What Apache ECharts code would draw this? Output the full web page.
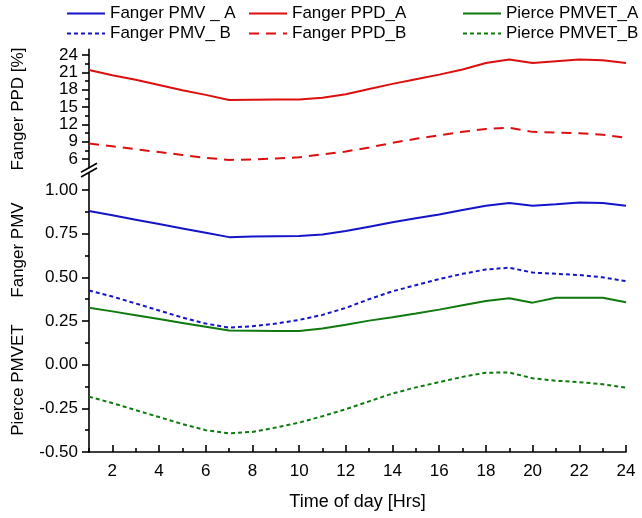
<!DOCTYPE html>
<html><head><meta charset="utf-8">
<script src="https://cdn.jsdelivr.net/npm/echarts@6/dist/echarts.min.js"></script>
<style>html,body{margin:0;padding:0;background:#fff}#c{width:642px;height:518px}</style>
</head><body><div id="c"></div>
<script>
const hours = [1,2,3,4,5,6,7,8,9,10,11,12,13,14,15,16,17,18,19,20,21,22,23,24];
const pmvA = [0.88,0.855,0.83,0.805,0.78,0.755,0.73,0.733,0.735,0.737,0.745,0.765,0.79,0.815,0.838,0.86,0.885,0.91,0.926,0.91,0.918,0.928,0.926,0.91];
const pmvB = [0.425,0.39,0.35,0.31,0.27,0.235,0.212,0.22,0.235,0.256,0.285,0.325,0.375,0.42,0.455,0.49,0.52,0.545,0.555,0.527,0.52,0.513,0.5,0.478];
const ppdA = [21.4,20.5,19.7,18.8,17.9,17.1,16.2,16.25,16.3,16.3,16.6,17.2,18.1,19.0,19.8,20.6,21.5,22.6,23.2,22.6,22.9,23.2,23.1,22.6];
const ppdB = [8.7,8.2,7.7,7.2,6.7,6.2,5.85,5.9,6.1,6.3,6.8,7.3,8.0,8.8,9.5,10.1,10.7,11.2,11.4,10.7,10.6,10.45,10.2,9.7];
const etA = [0.326,0.305,0.283,0.261,0.239,0.217,0.195,0.194,0.193,0.193,0.207,0.228,0.252,0.272,0.293,0.315,0.34,0.365,0.38,0.355,0.383,0.383,0.383,0.357];
const etB = [-0.183,-0.22,-0.26,-0.3,-0.34,-0.375,-0.393,-0.385,-0.36,-0.332,-0.295,-0.255,-0.21,-0.165,-0.13,-0.1,-0.07,-0.046,-0.045,-0.078,-0.092,-0.1,-0.112,-0.132];

const xMajor = [2,4,6,8,10,12,14,16,18,20,22,24];
const xMinor = [1,3,5,7,9,11,13,15,17,19,21,23];
const ppdMajor = [6,9,12,15,18,21,24];
const ppdMinor = [7.5,10.5,13.5,16.5,19.5,22.5];
const pmvMajor = [-0.5,-0.25,0,0.25,0.5,0.75,1.0];
const pmvMinor = [-0.375,-0.125,0.125,0.375,0.625,0.875];

const FONT = "'Liberation Sans', Arial, sans-serif";
const BLUE = '#1414c8', RED = '#dc0f0f', GREEN = '#0e7a0e';
const axisLine = {show:true, onZero:false, lineStyle:{color:'#000', width:1.6}};
const lbl = {color:'#000', fontSize:17, fontFamily:FONT};

const chart = echarts.init(document.getElementById('c'), null, {renderer:'canvas'});

function mkSeries(name, data, color, type, xi, yi) {
  return {
    name, type:'line', xAxisIndex:xi, yAxisIndex:yi, symbol:'none', smooth:false,
    data: hours.map((h,i)=>[h, data[i]]),
    lineStyle:{color, width:2, type},
    itemStyle:{color}
  };
}
function mkLegend(name, left, top) {
  return {data:[name], left, top, itemWidth:38, itemHeight:14, padding:0,
    itemStyle:{opacity:0},
    textStyle:{color:'#000', fontSize:17, fontFamily:FONT}};
}

const option = {
  animation:false,
  backgroundColor:'#fff',
  legend:[
    mkLegend('Fanger PMV _ A', 66, 5), mkLegend('Fanger PPD_A', 248, 5), mkLegend('Pierce PMVET_A', 462, 5),
    mkLegend('Fanger PMV_ B', 66, 25), mkLegend('Fanger PPD_B', 248, 25), mkLegend('Pierce PMVET_B', 462, 25)
  ],
  grid:[
    {left:89, right:16, top:49.2, height:118.5},
    {left:89, right:16, top:172.5, bottom:66}
  ],
  xAxis:[
    {type:'value', gridIndex:0, min:1, max:24, show:false},
    {type:'value', gridIndex:1, position:'bottom', min:1, max:24, axisLine,
      axisTick:{show:true, inside:true, length:7, customValues:xMajor, lineStyle:{color:'#000', width:1.6}},
      axisLabel:Object.assign({customValues:xMajor, margin:11}, lbl),
      splitLine:{show:false},
      name:'Time of day [Hrs]', nameLocation:'middle', nameGap:41,
      nameTextStyle:{color:'#000', fontSize:18, fontFamily:FONT}},
    {type:'value', gridIndex:1, position:'bottom', min:1, max:24,
      axisLine:{show:false, onZero:false}, axisLabel:{show:false}, splitLine:{show:false},
      axisTick:{show:true, inside:true, length:4, customValues:xMinor, lineStyle:{color:'#000', width:1.6}}}
  ],
  yAxis:[
    {type:'value', gridIndex:0, position:'left', min:4.5, max:25, axisLine,
      axisTick:{show:true, length:7, customValues:ppdMajor, lineStyle:{color:'#000', width:1.6}},
      axisLabel:Object.assign({customValues:ppdMajor, margin:11}, lbl),
      splitLine:{show:false}},
    {type:'value', gridIndex:0, position:'left', min:4.5, max:25,
      axisLine:{show:false, onZero:false}, axisLabel:{show:false}, splitLine:{show:false},
      axisTick:{show:true, length:4, customValues:ppdMinor, lineStyle:{color:'#000', width:1.6}}},
    {type:'value', gridIndex:1, position:'left', min:-0.5, max:1.1, axisLine,
      axisTick:{show:true, length:7, customValues:pmvMajor, lineStyle:{color:'#000', width:1.6}},
      axisLabel:Object.assign({customValues:pmvMajor, margin:11, formatter:v=>v.toFixed(2)}, lbl),
      splitLine:{show:false}},
    {type:'value', gridIndex:1, position:'left', min:-0.5, max:1.1,
      axisLine:{show:false, onZero:false}, axisLabel:{show:false}, splitLine:{show:false},
      axisTick:{show:true, length:4, customValues:pmvMinor, lineStyle:{color:'#000', width:1.6}}}
  ],
  series:[
    mkSeries('Fanger PMV _ A', pmvA, BLUE, 'solid', 1, 2),
    mkSeries('Fanger PPD_A', ppdA, RED, 'solid', 0, 0),
    mkSeries('Pierce PMVET_A', etA, GREEN, 'solid', 1, 2),
    mkSeries('Fanger PMV_ B', pmvB, BLUE, [4,3], 1, 2),
    mkSeries('Fanger PPD_B', ppdB, RED, [10,7], 0, 0),
    mkSeries('Pierce PMVET_B', etB, GREEN, [4,3], 1, 2)
  ]
};
chart.setOption(option);

const ax = chart.convertToPixel({xAxisIndex:1}, 1);
const yTop = chart.convertToPixel({yAxisIndex:0}, 4.5);
const yBot = chart.convertToPixel({yAxisIndex:2}, 1.1);
const tstyle = {fill:'#000', fontSize:17, fontFamily:FONT, align:'center', verticalAlign:'middle'};
chart.setOption({graphic:[
  {type:'line', shape:{x1:ax-8, y1:yTop+4.5, x2:ax+8, y2:yTop-4.5}, style:{stroke:'#000', lineWidth:1.6}},
  {type:'line', shape:{x1:ax-8, y1:yBot+4.5, x2:ax+8, y2:yBot-4.5}, style:{stroke:'#000', lineWidth:1.6}},
  {type:'text', x:18, y:109, rotation:Math.PI/2, style:Object.assign({text:'Fanger PPD [%]'}, tstyle)},
  {type:'text', x:18, y:250, rotation:Math.PI/2, style:Object.assign({text:'Fanger PMV'}, tstyle)},
  {type:'text', x:18, y:380, rotation:Math.PI/2, style:Object.assign({text:'Pierce PMVET'}, tstyle)}
]});
</script></body></html>
